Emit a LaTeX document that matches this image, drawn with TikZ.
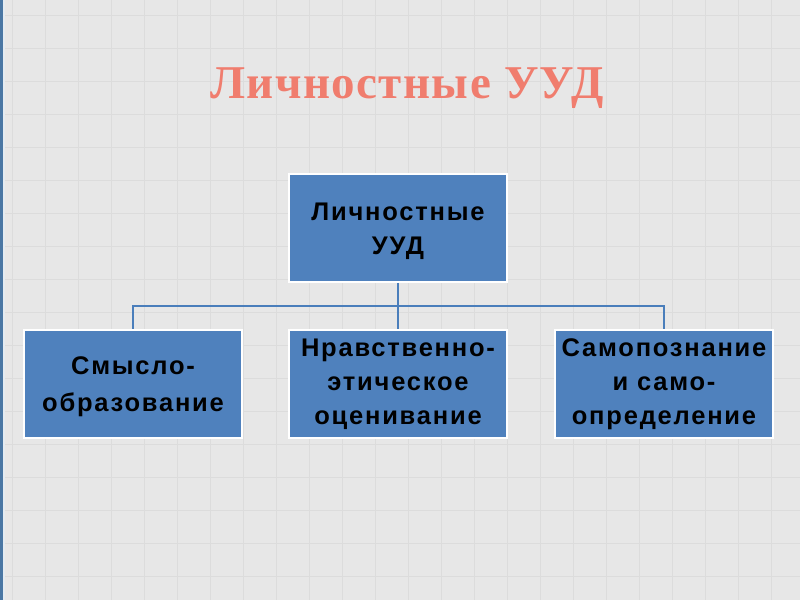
\documentclass[tikz,border=0pt]{standalone}
\usepackage{fontspec}
\setmainfont{Liberation Serif}
\newfontfamily\boxfont[LetterSpace=7]{Liberation Sans}
\newfontfamily\titlefont[LetterSpace=3]{Liberation Serif}
\definecolor{bg}{HTML}{E7E7E7}
\definecolor{gridc}{HTML}{DCDCDC}
\definecolor{boxblue}{HTML}{4F81BD}
\definecolor{linec}{HTML}{4A7EBB}
\definecolor{titlec}{HTML}{F07D6E}
\definecolor{edgeblue}{HTML}{4A77A4}
\begin{document}
\begin{tikzpicture}[x=1pt,y=-1pt,
  ubox/.style={draw=white,line width=1.5pt,fill=boxblue,minimum width=218pt,minimum height=108pt,
    align=center,font=\boxfont\bfseries\fontsize{25.5}{34}\selectfont,inner sep=0pt},
  conn/.style={draw=linec,line width=1.5pt}]
\fill[bg] (0,0) rectangle (800,600);
\useasboundingbox (0,0) rectangle (800,600);
\foreach \i in {0,...,25} {
  \draw[gridc,line width=1pt] (\i*33+12,0) -- (\i*33+12,600);
  \draw[gridc,line width=1pt] (0,\i*33+15) -- (800,\i*33+15);
}
\fill[edgeblue] (0,0) rectangle (3,600);
\fill[white!85!edgeblue] (3,0) rectangle (5,600);
\node[font=\titlefont\bfseries\fontsize{47}{50}\selectfont,text=titlec] (title) at (407,88) {Личностные УУД};
\node[ubox] (top) at (398,228) {};
\node[align=center,font=\boxfont\bfseries\fontsize{25.5}{34}\selectfont,inner sep=0pt] (toptext) at (398,231) {Личностные\\УУД};
\node[ubox] (a) at (133,384) {};
\node[align=center,font=\boxfont\bfseries\fontsize{25.5}{37}\selectfont,inner sep=0pt] (atext) at (133,387) {Смысло-\\образование};
\node[ubox] (b) at (398,384) {Нравственно-\\этическое\\оценивание};
\node[ubox] (c) at (664,384) {Самопознание\\и само-\\определение};
\coordinate (j) at (398,306);
\draw[conn] (top.south) -- (j);
\draw[conn] (j) -- (a.north |- j) -- (a.north);
\draw[conn] (j) -- (c.north |- j) -- (c.north);
\draw[conn] (j) -- (b.north);
\end{tikzpicture}
\end{document}
